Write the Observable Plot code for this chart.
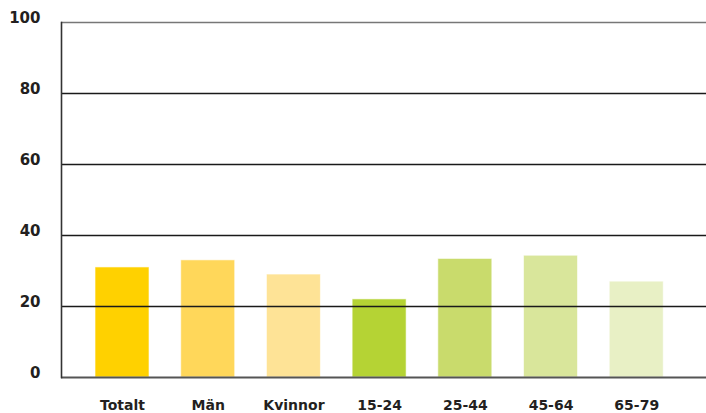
<!DOCTYPE html>
<html>
<head>
<meta charset="utf-8">
<script src="https://cdn.jsdelivr.net/npm/d3@7"></script>
<script src="https://cdn.jsdelivr.net/npm/@observablehq/plot@0.6"></script>
<style>
  html, body { margin: 0; padding: 0; background: #fff; }
  #chart svg { display: block; }
</style>
</head>
<body>
<div id="chart"></div>
<script>
const categories = ["Totalt", "Män", "Kvinnor", "15-24", "25-44", "45-64", "65-79"];
const values = [31, 33, 29, 22, 33.4, 34.3, 27];
const colors = ["#FFD100", "#FFD75A", "#FEE396", "#B5D334", "#C9DB6C", "#D9E69B", "#E8F0C5"];
const yTicks = [0, 20, 40, 60, 80, 100];
const gridValues = [20, 40, 60, 80];

const data = categories.map((c, i) => ({category: c, value: values[i], color: colors[i]}));

const chart = Plot.plot({
  width: 706,
  height: 413,
  marginTop: 22,
  marginBottom: 36,
  marginLeft: 61,
  marginRight: 0,
  style: {fontFamily: "'DejaVu Sans', sans-serif", fontWeight: "bold", fontSize: "14px", color: "#231f20", background: "#fff"},
  x: {domain: categories, paddingInner: 0.37, paddingOuter: 0.448, align: 0.443, round: false},
  y: {domain: [0, 100]},
  marks: [
    Plot.barY(data, {x: "category", y: "value", fill: "color", stroke: "#ffffff", strokeOpacity: 0.6, strokeWidth: 1}),
    Plot.ruleY(gridValues, {stroke: "#1a1a1a", strokeWidth: 1.6}),
    Plot.ruleY([100], {stroke: "#777", strokeWidth: 1.6}),
    Plot.ruleY([0], {stroke: "#555", strokeWidth: 2}),
    Plot.frame({anchor: "left", stroke: "#333", strokeWidth: 1.6}),
    Plot.axisY({ticks: yTicks, tickSize: 0, tickPadding: 21, label: null, dy: -4, fontSize: 15, fontWeight: "bold", fill: "#231f20"}),
    Plot.axisX({tickSize: 0, tickPadding: 23, label: null, fontSize: 14, fontWeight: "bold", fill: "#231f20"})
  ]
});
document.getElementById("chart").appendChild(chart);
</script>
</body>
</html>
